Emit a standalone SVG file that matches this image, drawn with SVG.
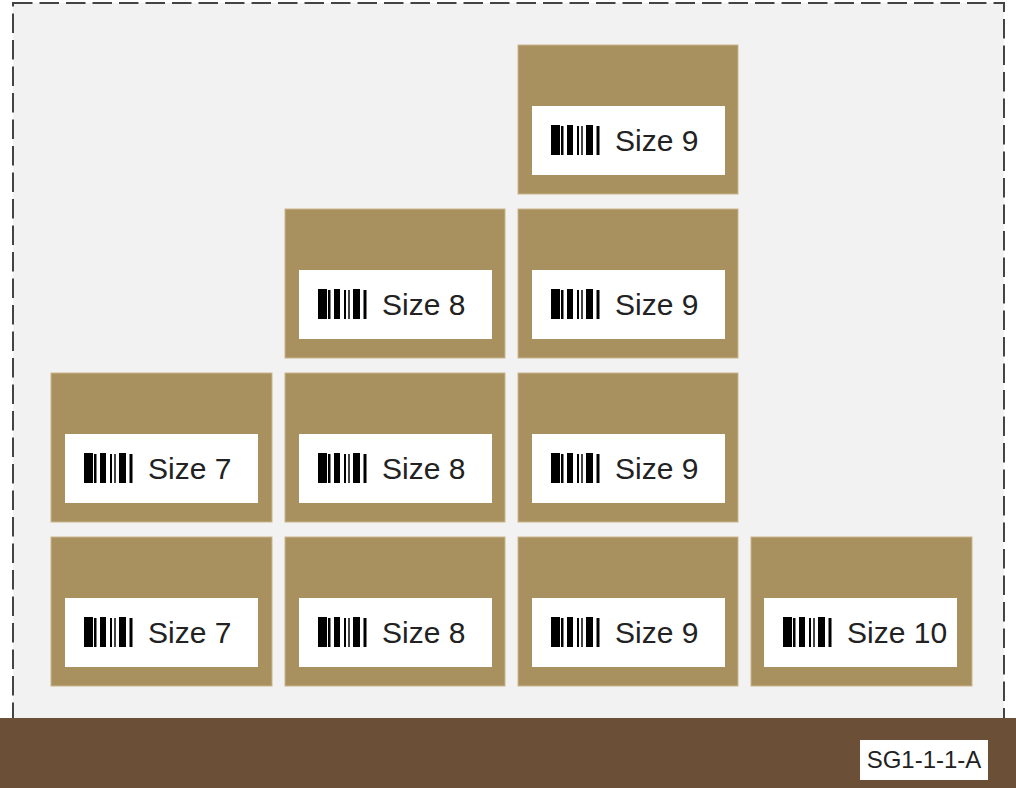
<svg xmlns="http://www.w3.org/2000/svg" width="1016" height="788" viewBox="0 0 1016 788">
<style>
.box{fill:#a8915f;stroke:#c9b58c;stroke-width:1}
.lbl{fill:#ffffff}
.t{font-family:"Liberation Sans",Arial,sans-serif;font-size:30px;fill:#222222}
.loc{font-family:"Liberation Sans",Arial,sans-serif;font-size:24px;fill:#222222}
</style>
<defs>
<g id="bc" fill="#000">
<rect x="0" y="0" width="9" height="30"/>
<rect x="10" y="1" width="2.5" height="29"/>
<rect x="16" y="0" width="6" height="30"/>
<rect x="26" y="1" width="2" height="29"/>
<rect x="30" y="1" width="2" height="29" fill="#444"/>
<rect x="35" y="0" width="7" height="30"/>
<rect x="45.5" y="1" width="3" height="29"/>
</g>
</defs>
<rect x="0" y="0" width="1016" height="788" fill="#ffffff"/>
<rect id="zone" x="13" y="3" width="991" height="720" fill="#f2f2f2" stroke="#444444" stroke-width="2" stroke-dasharray="19.5 7"/>
<rect id="shelf" x="0" y="718" width="1016" height="70" fill="#6b4f36"/>
<g id="shelf-label">
<rect x="860" y="740" width="128" height="40" fill="#ffffff"/>
<text class="loc" x="924" y="768" text-anchor="middle">SG1-1-1-A</text>
</g>
<g id="box-r1c3" transform="translate(518,45)"><rect class="box" x="0" y="0" width="220" height="149"/><rect class="lbl" x="14" y="61" width="193" height="69"/><use href="#bc" x="33" y="80"/><text class="t" x="97" y="106">Size 9</text></g>
<g id="box-r2c2" transform="translate(285,209)"><rect class="box" x="0" y="0" width="220" height="149"/><rect class="lbl" x="14" y="61" width="193" height="69"/><use href="#bc" x="33" y="80"/><text class="t" x="97" y="106">Size 8</text></g>
<g id="box-r2c3" transform="translate(518,209)"><rect class="box" x="0" y="0" width="220" height="149"/><rect class="lbl" x="14" y="61" width="193" height="69"/><use href="#bc" x="33" y="80"/><text class="t" x="97" y="106">Size 9</text></g>
<g id="box-r3c1" transform="translate(51,373)"><rect class="box" x="0" y="0" width="221" height="149"/><rect class="lbl" x="14" y="61" width="193" height="69"/><use href="#bc" x="33" y="80"/><text class="t" x="97" y="106">Size 7</text></g>
<g id="box-r3c2" transform="translate(285,373)"><rect class="box" x="0" y="0" width="220" height="149"/><rect class="lbl" x="14" y="61" width="193" height="69"/><use href="#bc" x="33" y="80"/><text class="t" x="97" y="106">Size 8</text></g>
<g id="box-r3c3" transform="translate(518,373)"><rect class="box" x="0" y="0" width="220" height="149"/><rect class="lbl" x="14" y="61" width="193" height="69"/><use href="#bc" x="33" y="80"/><text class="t" x="97" y="106">Size 9</text></g>
<g id="box-r4c1" transform="translate(51,537)"><rect class="box" x="0" y="0" width="221" height="149"/><rect class="lbl" x="14" y="61" width="193" height="69"/><use href="#bc" x="33" y="80"/><text class="t" x="97" y="106">Size 7</text></g>
<g id="box-r4c2" transform="translate(285,537)"><rect class="box" x="0" y="0" width="220" height="149"/><rect class="lbl" x="14" y="61" width="193" height="69"/><use href="#bc" x="33" y="80"/><text class="t" x="97" y="106">Size 8</text></g>
<g id="box-r4c3" transform="translate(518,537)"><rect class="box" x="0" y="0" width="220" height="149"/><rect class="lbl" x="14" y="61" width="193" height="69"/><use href="#bc" x="33" y="80"/><text class="t" x="97" y="106">Size 9</text></g>
<g id="box-r4c4" transform="translate(751,537)"><rect class="box" x="0" y="0" width="221" height="149"/><rect class="lbl" x="13" y="61" width="193" height="69"/><use href="#bc" x="32" y="80"/><text class="t" x="96" y="106">Size 10</text></g>
<g id="connectors"/>
</svg>
